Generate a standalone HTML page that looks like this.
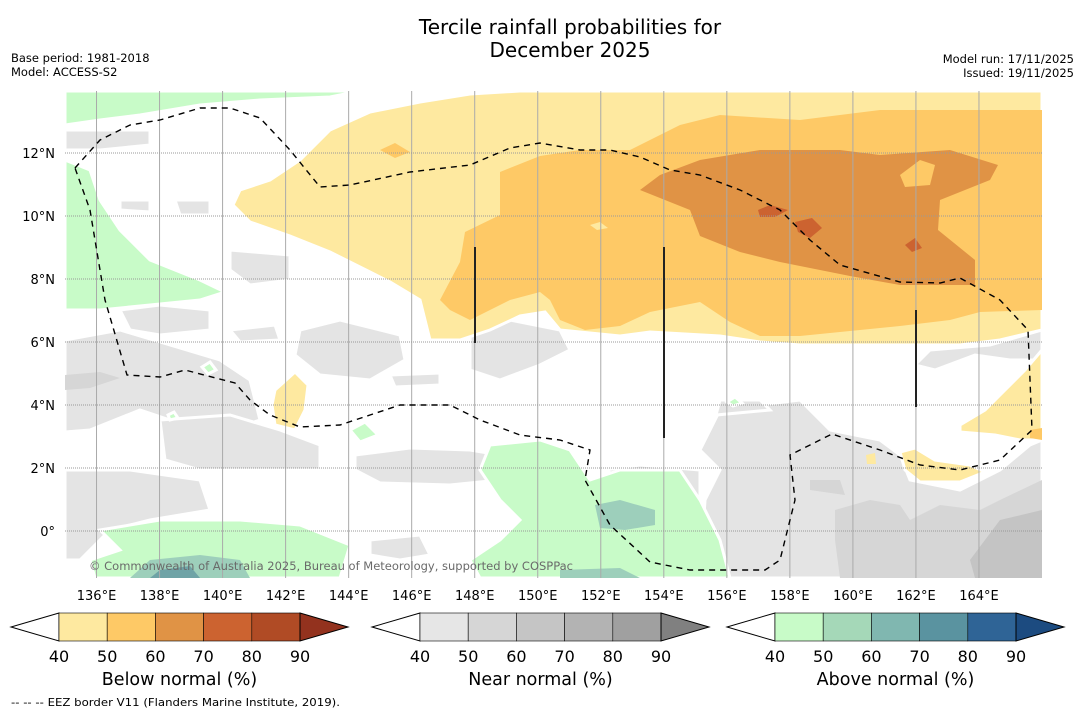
<!DOCTYPE html>
<html><head><meta charset="utf-8">
<style>
body{margin:0;background:#fff;width:1085px;height:713px;overflow:hidden;font-family:"Liberation Sans","DejaVu Sans",sans-serif}
svg{position:absolute;left:0;top:0}
</style></head>
<body>
<svg id="chart" width="1085" height="713" viewBox="0 0 1085 713" xmlns="http://www.w3.org/2000/svg" font-family="DejaVu Sans, Liberation Sans, sans-serif">
<g font-size="20" text-anchor="middle" fill="#000">
<text x="570" y="34">Tercile rainfall probabilities for</text>
<text x="570" y="57">December 2025</text>
</g>
<g font-size="11.5" fill="#000">
<text x="11" y="62">Base period: 1981-2018</text>
<text x="11" y="76">Model: ACCESS-S2</text>
<text x="1074" y="63" text-anchor="end">Model run: 17/11/2025</text>
<text x="1074" y="77" text-anchor="end">Issued: 19/11/2025</text>
</g>
<defs><clipPath id="mapclip"><rect x="65" y="91" width="977" height="487"/></clipPath></defs>
<g id="map" clip-path="url(#mapclip)">
<rect x="65" y="91" width="977" height="487" fill="#fff"/>
<g fill="#e4e4e4" stroke="#fff" stroke-width="3">
<path d="M65,340 L120,330 L170,345 L220,360 L250,380 L260,420 L230,430 L170,420 L140,410 L90,430 L65,432Z"/>
<path d="M160,420 L230,415 L280,430 L320,445 L320,470 L260,470 L200,470 L165,460Z"/>
<path d="M65,470 L130,470 L200,480 L210,510 L150,520 L110,530 L80,560 L65,560Z"/>
<path d="M300,330 L340,320 L400,335 L405,360 L370,380 L320,375 L295,355Z"/>
<path d="M390,375 L440,373 L440,385 L395,387Z"/>
<path d="M470,330 L510,320 L560,330 L570,350 L540,365 L500,380 L470,370Z"/>
<path d="M120,310 L160,305 L210,310 L210,330 L160,335 L130,330Z"/>
<path d="M230,330 L275,325 L280,340 L240,342Z"/>
<path d="M230,250 L290,255 L290,280 L250,285 L230,270Z"/>
<path d="M65,130 L150,130 L150,145 L100,150 L65,150Z"/>
<path d="M175,200 L210,200 L210,215 L180,215Z"/>
<path d="M120,200 L150,200 L150,212 L120,210Z"/>
<path d="M355,455 L410,448 L470,450 L500,455 L500,480 L450,485 L380,483 L355,470Z"/>
<path d="M370,540 L420,535 L430,555 L400,560 L370,555Z"/>
<path d="M220,91 L360,91 L330,100 L230,100Z"/>
<path d="M540,91 L700,91 L690,110 L650,118 L560,110Z"/>
<path d="M840,91 L980,91 L960,108 L900,112 L840,105Z"/>
<path d="M720,410 L800,400 L830,430 L880,440 L900,455 L910,480 L960,490 L1000,470 L1030,445 L1042,440 L1042,578 L700,578 L705,500 L720,470 L700,450Z"/>
<path d="M1042,330 L1042,360 L1010,360 L975,355 L935,370 L915,365 L930,350 L990,345Z"/>
<path d="M716,415 L720,400 L760,400 L770,410Z"/>
<path d="M605,470 L640,465 L700,470 L700,500 L680,510Z"/>
</g>
<g fill="#d6d6d6">
<path d="M835,510 L870,500 L900,505 L910,520 L940,505 L980,510 L1000,500 L1042,480 L1042,578 L840,578 L835,540Z"/>
<path d="M810,480 L840,480 L845,495 L810,490Z"/>
<path d="M65,375 L100,372 L120,378 L90,388 L65,390Z"/>
</g>
<g fill="#c4c4c4">
<path d="M970,560 L1000,520 L1042,510 L1042,578 L975,578Z"/>
</g>
<g fill="#c8fbc8" stroke="#fff" stroke-width="3">
<path d="M65,91 L360,91 L330,97 L260,100 L200,105 L140,115 L100,120 L65,125Z"/>
<path d="M65,160 L90,170 L100,200 L120,230 L150,260 L200,280 L225,292 L200,300 L150,305 L100,310 L65,310Z"/>
<path d="M490,445 L540,440 L570,450 L590,480 L620,470 L680,470 L700,500 L720,540 L730,578 L480,578 L470,560 L500,540 L520,520 L500,500 L480,470Z"/>
<path d="M100,530 L160,520 L240,520 L300,525 L350,545 L340,578 L95,578 L90,560 L120,550Z"/>
<path d="M350,430 L365,422 L378,435 L360,442Z"/>
<path d="M202,367 L210,362 L216,370 L208,374Z"/>
<path d="M727,402 L735,397 L742,403 L733,406Z"/>
<path d="M168,415 L174,412 L178,418 L170,420Z"/>
</g>
<g fill="#9dcfbb">
<path d="M595,505 L620,500 L655,510 L655,525 L625,530 L600,528Z"/>
<path d="M150,560 L200,555 L240,560 L250,578 L130,578Z"/>
<path d="M560,570 L620,568 L640,578 L560,578Z"/>
</g>
<g fill="#6fa3a6">
<path d="M160,570 L190,566 L200,578 L150,578Z"/>
</g>
<g>
<path fill="#fee9a0" stroke="#fff" stroke-width="3" d="M233,205 L240,190 L270,180 L300,160 L330,130 L370,112 L420,102 L470,94 L520,91 L1042,91 L1042,330 L1000,340 L960,345 L900,345 L800,345 L760,342 L720,336 L650,332 L620,336 L560,330 L545,312 L520,316 L490,330 L460,340 L430,340 L420,300 L390,282 L370,272 L330,252 L290,236 L250,222Z"/>
<path fill="#fee9a0" stroke="#fff" stroke-width="3" d="M275,390 L295,372 L308,385 L305,410 L295,430 L275,425 L272,405Z"/>
<path fill="#fee9a0" stroke="#fff" stroke-width="3" d="M1042,350 L1042,440 L1020,440 L995,435 L960,432 L960,425 L985,410 L1000,395 L1025,370Z"/>
<path fill="#fee9a0" stroke="#fff" stroke-width="3" d="M900,452 L915,448 L935,460 L970,465 L985,472 L960,482 L920,482 L905,470Z"/>
<path fill="#fee9a0" d="M866,455 L875,453 L876,464 L867,464Z"/>
<path fill="#fec966" d="M440,300 L460,262 L465,232 L500,215 L500,172 L540,156 L580,150 L630,150 L680,125 L720,115 L800,120 L880,110 L1042,110 L1042,310 L980,312 L950,320 L900,326 L860,330 L800,336 L760,336 L730,322 L700,302 L650,312 L620,326 L585,330 L560,320 L550,300 L540,292 L510,300 L490,310 L470,320 L450,310Z"/>
<path fill="#fec966" d="M380,150 L395,143 L410,152 L395,158Z"/>
<path fill="#fec966" d="M1030,430 L1042,428 L1042,440 L1030,438Z"/>
<path fill="#fee9a0" d="M590,225 L600,222 L608,228 L597,230Z"/>
<path fill="#e09345" d="M640,190 L660,175 L700,160 L760,150 L840,150 L880,155 L950,150 L998,165 L990,180 L940,200 L938,230 L975,260 L975,285 L900,285 L850,276 L780,262 L740,252 L700,236 L690,210Z"/>
<path fill="#fec966" d="M900,175 L920,160 L935,165 L930,185 L905,187Z"/>
<path fill="#cc6330" d="M758,210 L770,205 L788,210 L775,217 L760,217Z"/>
<path fill="#cc6330" d="M795,222 L812,218 L822,228 L810,238 L798,232Z"/>
<path fill="#cc6330" d="M905,245 L915,238 L922,248 L912,252Z"/>
</g>
<g id="grid"></g>
<path fill="none" stroke="#000" stroke-width="1.4" stroke-dasharray="6,5" d="M75,168 L100,140 L130,125 L160,120 L200,108 L230,108 L260,118 L290,150 L320,187 L350,185 L410,172 L470,165 L510,148 L540,143 L580,150 L610,150 L640,157 L670,170 L700,175 L740,190 L780,210 L810,240 L840,265 L900,282 L940,283 L960,278 L1000,300 L1028,330 L1032,430 L1000,460 L960,470 L920,465 L880,450 L832,434 L790,455 L795,500 L780,560 L765,570 L690,570 L650,562 L610,525 L585,480 L590,450 L560,440 L520,435 L480,420 L450,405 L400,405 L370,415 L340,425 L300,427 L270,415 L250,400 L235,383 L185,370 L160,377 L127,375 L105,300 L95,240 L90,210 Z"/>
<g stroke="#222" stroke-width="2">
<line x1="475" y1="247" x2="475" y2="343"/>
<line x1="664" y1="247" x2="664" y2="438"/>
<line x1="916" y1="310" x2="916" y2="407"/>
</g>
<text x="89" y="570" font-size="11.4" textLength="484" lengthAdjust="spacingAndGlyphs" fill="#6a6a6a">© Commonwealth of Australia 2025, Bureau of Meteorology, supported by COSPPac</text>
</g>
<g id="axislabels" font-size="13" fill="#000"></g>
<g id="cbars"></g>
<text x="11" y="706" font-size="11" textLength="329" lengthAdjust="spacingAndGlyphs" fill="#000">--  --  -- EEZ border V11 (Flanders Marine Institute, 2019).</text>
</svg>
<script>
const NS='http://www.w3.org/2000/svg';
const lonTicks=[136,138,140,142,144,146,148,150,152,154,156,158,160,162,164];
const latTicks=[0,2,4,6,8,10,12];
const cbTicks=[40,50,60,70,80,90];
const belowColors=['#fee9a0','#fec966','#e09345','#cc6330','#b04b25','#93321e'];
const nearColors=['#e6e6e6','#d6d6d6','#c5c5c5','#b3b3b3','#a0a0a0','#808080'];
const aboveColors=['#c8fbc8','#a5d8b8','#80b7b0','#5a93a0','#2f6496','#1c4b80'];
const cbTitles=['Below normal (%)','Near normal (%)','Above normal (%)'];
const lonMin=135,lonMax=166,latMin=-1.5,latMax=14;
const X=lon=>65+(lon-lonMin)/(lonMax-lonMin)*977;
const Y=lat=>531-lat*31.5;
function mk(tag,attrs,parent){const e=document.createElementNS(NS,tag);for(const k in attrs)e.setAttribute(k,attrs[k]);parent.appendChild(e);return e;}
const grid=document.getElementById('grid'),al=document.getElementById('axislabels');
lonTicks.forEach(l=>{
  const ln=mk('line',{x1:X(l),x2:X(l),y1:91,y2:578,stroke:'#aaa','stroke-width':1},grid);
  
  
  const t=mk('text',{x:X(l),y:600,'text-anchor':'middle'},al);
  t.textContent=l+'°E';
  
  
});
latTicks.forEach(l=>{
  const ln=mk('line',{x1:65,x2:1042,y1:Y(l),y2:Y(l),stroke:'#999','stroke-width':1,'stroke-dasharray':'1,1'},grid);
  
  
  const t=mk('text',{x:55,y:Y(l)+5,'text-anchor':'end'},al);
  t.textContent=l===0?'0°':l+'°N';
  
  
});
const cb=document.getElementById('cbars');
const cbStarts=[59,420,775];
[belowColors,nearColors,aboveColors].forEach((cols,i)=>{
  const g=mk('g',{},cb);
  
  
  const x0=cbStarts[i],w=48.2,y0=613,h=28;
  const xs=v=>x0+(v-cbTicks[0])/10*w;
  mk('polygon',{points:`${x0},${y0} ${x0-48},${y0+h/2} ${x0},${y0+h}`,fill:'#fff',stroke:'#000','stroke-width':1},g);
  for(let k=0;k<cbTicks.length-1;k++){
    const r=mk('rect',{x:xs(cbTicks[k]),y:y0,width:w,height:h,fill:cols[k],stroke:'#000','stroke-width':0.6},g);
    
    
  }
  const xe=xs(cbTicks[cbTicks.length-1]);
  mk('polygon',{points:`${xe},${y0} ${xe+48},${y0+h/2} ${xe},${y0+h}`,fill:cols[5],stroke:'#000','stroke-width':1},g);
  cbTicks.forEach(v=>{
    const t=mk('text',{x:xs(v),y:662,'text-anchor':'middle','font-size':16},g);
    t.textContent=v;
    
    
  });
  const tt=mk('text',{x:(x0+xe)/2,y:685,'text-anchor':'middle','font-size':17.5},g);
  tt.textContent=cbTitles[i];
  
  
});
</script>
</body></html>
